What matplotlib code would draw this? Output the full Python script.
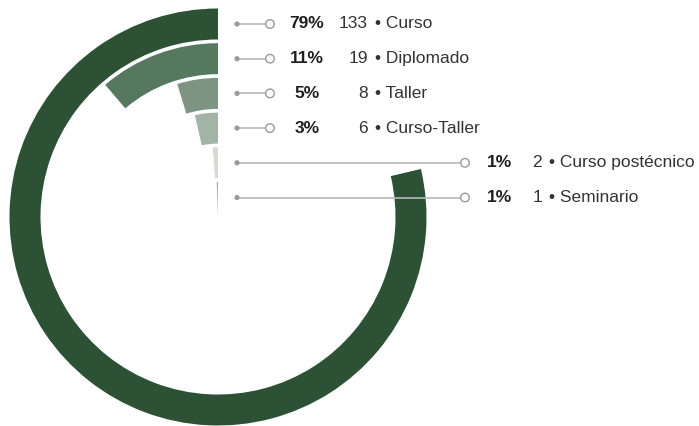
import matplotlib.pyplot as plt
from matplotlib.patches import Wedge, Circle

# data
labels = ["Curso", "Diplomado", "Taller", "Curso-Taller", "Curso postécnico", "Seminario"]
counts = [133, 19, 8, 6, 2, 1]
pct_labels = ["79%", "11%", "5%", "3%", "1%", "1%"]
colors = ["#2c5135", "#56785e", "#7d9482", "#a3b4a6", "#d3dbd4", "#a0b2a3"]

W, H = 699, 426
total = sum(counts)

fig = plt.figure(figsize=(W / 100, H / 100), dpi=100)
ax = fig.add_axes([0, 0, 1, 1])
ax.set_xlim(0, W)
ax.set_ylim(0, H)
ax.set_aspect("equal")
ax.axis("off")

# ring geometry (pixels, y up)
cx, cy = 218, H - 217
r_out0 = 208.5   # outer radius of first ring
pitch = 34.7     # distance between rings
thick = 31

txt_font = ["Liberation Sans", "DejaVu Sans"]
fs = 12.5

for i, (lab, n, pct, col) in enumerate(zip(labels, counts, pct_labels, colors)):
    r_out = r_out0 - i * pitch
    ang = 360 * n / total
    # ring starts at 12 o'clock and runs counterclockwise
    ax.add_patch(Wedge((cx, cy), r_out, 90, 90 + ang, width=thick,
                       facecolor=col, edgecolor="none", zorder=2))

    y = cy + r_out - thick / 2
    long_leader = i >= 4
    x_end = 465 if long_leader else 270
    ax.plot([237, x_end], [y, y], color="#b8b8b8", lw=1.2, zorder=3)
    ax.add_patch(Circle((237, y), 2.6, facecolor="#9a9a9a", edgecolor="none", zorder=4))
    ax.add_patch(Circle((x_end, y), 4.3, facecolor="white", edgecolor="#9a9a9a", lw=1, zorder=4))

    if long_leader:
        x_pct, x_num = 499, 542
    else:
        x_pct, x_num = 307, 368
    ax.text(x_pct, y, pct, ha="center", va="center", fontsize=fs,
            fontweight="bold", color="#1e1e1e", family=txt_font)
    ax.text(x_num, y, str(n), ha="right", va="center", fontsize=fs,
            color="#333333", family=txt_font)
    ax.text(x_num + 7, y, "\u2022 " + lab, ha="left", va="center", fontsize=fs,
            color="#333333", family=txt_font)

fig.savefig("out.png", dpi=100, facecolor="white")
